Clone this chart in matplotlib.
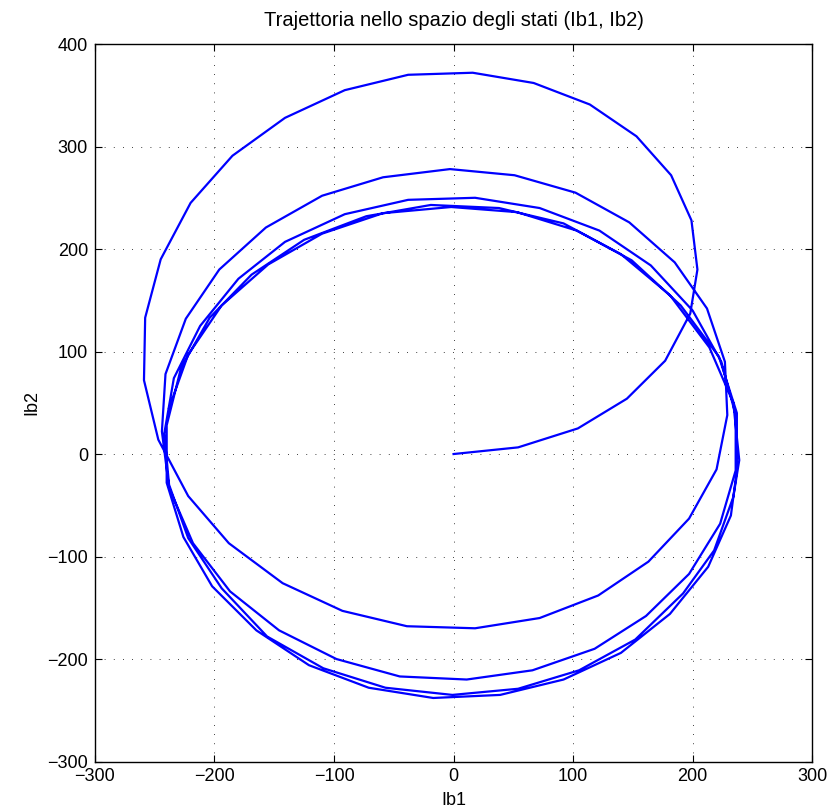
import matplotlib
matplotlib.use('Agg')
import matplotlib.pyplot as plt
import numpy as np

plt.rcParams['font.family'] = ['Liberation Sans', 'DejaVu Sans']

# trajectory points (Ib1, Ib2)
ib1 = [0, 54, 104, 145, 177, 198, 204, 199, 182, 153, 114, 67, 16, -38, -91, -141, -185, -220, -245, -258, -259, -247,
       -222, -188, -143, -93, -39, 18, 72, 121, 163, 197, 220, 229, 227, 212, 185, 147, 102, 51, -3, -59, -110, -157, -196, -224, -241, -244,
       -238, -218, -187, -146, -98, -45, 11, 66, 118, 161, 197, 223, 236, 236, 224, 200, 165, 122, 72, 18, -38, -91, -141, -180, -212, -234, -242,
       -238, -222, -194, -156, -109, -57, -1, 54, 105, 152, 192, 218, 234, 239, 234, 214, 181, 140, 92, 38, -19, -73, -125, -169, -204, -228, -240,
       -240, -226, -202, -165, -121, -71, -17, 39, 92, 140, 181, 213, 232, 237, 237, 222, 190, 149, 103, 53, -2, -59, -110, -155, -194, -222, -238]
ib2 = [0, 6.5, 25, 54, 91, 137, 180, 228, 272, 310, 341, 362, 372, 370, 355, 328, 291, 245, 190, 133, 72, 14,
       -41, -87, -126, -153, -168, -170, -160, -138, -105, -63, -15, 38, 90, 142, 187, 226, 255, 272, 278, 270, 252, 221, 180, 132, 78, 22,
       -33, -87, -134, -172, -200, -217, -220, -211, -190, -158, -117, -68, -16, 38, 90, 140, 184, 218, 240, 250, 248, 234, 207, 171, 125, 74, 20,
       -30, -82, -131, -178, -209, -228, -235, -229, -211, -181, -136, -94, -42, -6, 50, 104, 155, 195, 225, 240, 243, 232, 209, 175, 133, 84, 28,
       -28, -81, -129, -172, -206, -228, -238, -235, -220, -194, -156, -110, -60, -16, 40, 95, 145, 189, 218, 236, 241, 235, 215, 185, 145, 97, 45]

fig = plt.figure(figsize=(8.33, 8.11), dpi=100)
ax = fig.add_axes([0.114, 0.061, 0.861, 0.8847])
ax.plot(ib1, ib2, color=(0, 0, 1), linewidth=1.6)

ax.set_xlim(-300, 300)
ax.set_ylim(-300, 400)
ax.set_xticks(np.arange(-300, 301, 100))
ax.set_yticks(np.arange(-300, 401, 100))
ax.grid(True, linestyle=(0, (1, 10)), color='k', linewidth=0.6)
ax.tick_params(direction='in', top=True, right=True, labelsize=13, length=5, pad=5)
for s in ax.spines.values():
    s.set_linewidth(1.0)

ax.set_title('Trajettoria nello spazio degli stati (Ib1, Ib2)', fontsize=14.5, pad=13)
ax.set_xlabel('Ib1', fontsize=13, labelpad=5)
ax.set_ylabel('Ib2', fontsize=13, labelpad=5)

fig.savefig('out.png', dpi=100)
